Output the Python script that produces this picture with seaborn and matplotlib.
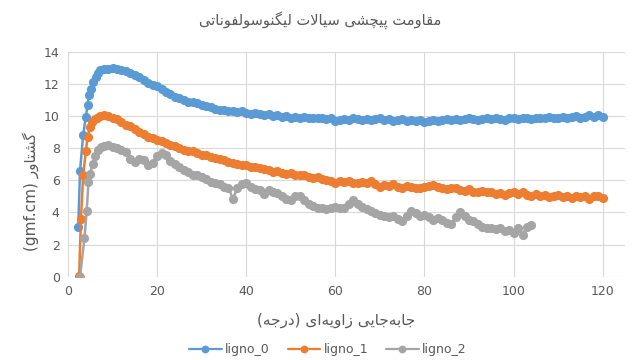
import re
import matplotlib
matplotlib.use("Agg")
import matplotlib.pyplot as plt
import numpy as np
import pandas as pd
import seaborn as sns
from matplotlib.lines import Line2D

# ---- data ----
series_names = ["ligno_0", "ligno_1", "ligno_2"]
colors = ["#5B9BD5", "#ED7D31", "#A5A5A5"]

x0 = [2.3, 2.7, 3.4, 4.0, 4.4, 4.7, 5.2, 5.7, 6.2, 6.7, 7.2] + list(range(8, 121))
y0 = [3.1, 6.6, 8.8, 9.95, 10.7, 11.3, 11.7, 12.1, 12.4, 12.7, 12.85,
      12.9, 12.95, 13.0, 12.95, 12.85, 12.8, 12.65, 12.55, 12.4, 12.25,
      12.05, 11.95, 11.85, 11.7, 11.5, 11.35, 11.2, 11.1, 11.0, 10.9,
      10.85, 10.8, 10.7, 10.6, 10.55, 10.45, 10.4, 10.35, 10.3, 10.3,
      10.25, 10.3, 10.2, 10.15, 10.2, 10.1, 10.05, 10.1, 10.0, 10.05,
      9.95, 10.0, 9.9, 9.95, 9.9, 9.95, 9.85, 9.9, 9.85, 9.9,
      9.8, 9.85, 9.7, 9.75, 9.8, 9.75, 9.85, 9.8, 9.75, 9.8,
      9.75, 9.8, 9.85, 9.75, 9.8, 9.7, 9.75, 9.8, 9.7, 9.75,
      9.7, 9.75, 9.65, 9.7, 9.75, 9.7, 9.75, 9.8, 9.75, 9.8,
      9.75, 9.8, 9.85, 9.8, 9.75, 9.8, 9.85, 9.8, 9.85, 9.8,
      9.75, 9.85, 9.9, 9.8, 9.85, 9.9, 9.8, 9.85, 9.9, 9.85,
      9.95, 9.85, 9.9, 9.95, 9.85, 9.95, 10.0, 9.9, 9.95, 10.05,
      9.95, 10.05, 9.95]

x1 = [2.5, 2.9, 3.4, 4.0, 4.4, 4.9, 5.4, 6.0, 6.6, 7.2] + list(range(8, 121))
y1 = [0.05, 3.6, 6.3, 7.8, 8.7, 9.3, 9.6, 9.8, 9.9, 10.0,
      10.05, 10.0, 9.85, 9.8, 9.6, 9.45, 9.4, 9.2, 9.0, 8.85,
      8.7, 8.6, 8.5, 8.45, 8.35, 8.2, 8.15, 8.0, 7.9, 7.85,
      7.8, 7.7, 7.6, 7.55, 7.45, 7.4, 7.3, 7.25, 7.15, 7.1,
      7.0, 6.95, 6.95, 6.85, 6.8, 6.75, 6.7, 6.65, 6.5, 6.55,
      6.45, 6.4, 6.45, 6.35, 6.3, 6.3, 6.2, 6.15, 6.2, 6.1,
      6.0, 5.95, 5.85, 5.95, 5.9, 5.95, 5.85, 5.8, 5.9, 5.85,
      5.95, 5.75, 5.6, 5.7, 5.65, 5.75, 5.6, 5.55, 5.65, 5.6,
      5.5, 5.55, 5.6, 5.65, 5.7, 5.6, 5.5, 5.45, 5.55, 5.5,
      5.4, 5.35, 5.45, 5.3, 5.3, 5.35, 5.25, 5.3, 5.15, 5.2,
      5.1, 5.2, 5.25, 5.15, 5.3, 5.1, 5.05, 5.15, 5.0, 5.1,
      4.95, 5.05, 5.1, 4.95, 5.0, 4.9, 5.05, 4.95, 5.0, 4.85,
      5.0, 5.05, 4.9]

x2 = [2.7, 3.7, 4.2, 4.6, 5.0, 5.5, 6.1, 6.8, 7.5] + list(range(8, 105))
y2 = [0.0, 2.4, 4.1, 5.9, 6.4, 7.0, 7.5, 7.9, 8.1,
      8.15, 8.2, 8.1, 8.0, 7.9, 7.75, 7.3, 7.15, 7.3, 7.25,
      6.95, 7.1, 7.5, 7.7, 7.55, 7.2, 7.0, 6.8, 6.65, 6.5,
      6.35, 6.3, 6.2, 6.05, 5.9, 5.8, 5.75, 5.6, 5.55, 4.85,
      5.5, 5.75, 5.8, 5.6, 5.45, 5.4, 5.15, 5.4, 5.3, 5.2,
      5.0, 4.85, 4.8, 5.0, 5.05, 4.75, 4.5, 4.4, 4.3, 4.25,
      4.2, 4.3, 4.35, 4.3, 4.25, 4.5, 4.75, 4.55, 4.35, 4.2,
      4.1, 3.95, 3.85, 3.75, 3.7, 3.75, 3.6, 3.45, 3.8, 4.1,
      3.95, 3.8, 3.85, 3.7, 3.55, 3.65, 3.5, 3.35, 3.3, 3.7,
      4.0, 3.75, 3.55, 3.45, 3.3, 3.1, 3.0, 3.05, 2.95, 3.0,
      2.85, 2.9, 2.75, 3.0, 2.6, 3.1, 3.2]

x_ticks = [0, 20, 40, 60, 80, 100, 120]
y_ticks = [0, 2, 4, 6, 8, 10, 12, 14]

title_text = "مقاومت پیچشی سیالات لیگنوسولفوناتی"
xlabel_text = "جابه\u200cجایی زاویه\u200cای (درجه)"
ylabel_text = "گشتاور (gmf.cm)"

# ---- tiny arabic/persian shaper (matplotlib has no shaping / bidi) ----
# letter: (isolated, final, initial, medial); None -> right-joining only
FORMS = {
    "ا": (0xFE8D, 0xFE8E, None, None),
    "ب": (0xFE8F, 0xFE90, 0xFE91, 0xFE92),
    "پ": (0xFB56, 0xFB57, 0xFB58, 0xFB59),
    "ت": (0xFE95, 0xFE96, 0xFE97, 0xFE98),
    "ج": (0xFE9D, 0xFE9E, 0xFE9F, 0xFEA0),
    "چ": (0xFB7A, 0xFB7B, 0xFB7C, 0xFB7D),
    "د": (0xFEA9, 0xFEAA, None, None),
    "ر": (0xFEAD, 0xFEAE, None, None),
    "ز": (0xFEAF, 0xFEB0, None, None),
    "س": (0xFEB1, 0xFEB2, 0xFEB3, 0xFEB4),
    "ش": (0xFEB5, 0xFEB6, 0xFEB7, 0xFEB8),
    "ف": (0xFED1, 0xFED2, 0xFED3, 0xFED4),
    "ق": (0xFED5, 0xFED6, 0xFED7, 0xFED8),
    "گ": (0xFB92, 0xFB93, 0xFB94, 0xFB95),
    "ل": (0xFEDD, 0xFEDE, 0xFEDF, 0xFEE0),
    "م": (0xFEE1, 0xFEE2, 0xFEE3, 0xFEE4),
    "ن": (0xFEE5, 0xFEE6, 0xFEE7, 0xFEE8),
    "ه": (0xFEE9, 0xFEEA, 0xFEEB, 0xFEEC),
    "و": (0xFEED, 0xFEEE, None, None),
    "ی": (0xFBFC, 0xFBFD, 0xFBFE, 0xFBFF),
}


def shape(s):
    # lam-alef ligature first
    out = []
    chars = list(s)
    i = 0
    tokens = []
    while i < len(chars):
        if chars[i] == "ل" and i + 1 < len(chars) and chars[i + 1] == "ا":
            tokens.append("LA")
            i += 2
        else:
            tokens.append(chars[i])
            i += 1

    def joins_next(t):
        if t == "LA":
            return False
        return t in FORMS and FORMS[t][2] is not None

    def is_letter(t):
        return t == "LA" or t in FORMS

    for k, t in enumerate(tokens):
        if t == "\u200c":
            continue
        prev = tokens[k - 1] if k > 0 else None
        nxt = tokens[k + 1] if k + 1 < len(tokens) else None
        pj = prev is not None and joins_next(prev)
        if t == "LA":
            out.append(chr(0xFEFC if pj else 0xFEFB))
            continue
        if t not in FORMS:
            out.append(t)
            continue
        nj = joins_next(t) and nxt is not None and is_letter(nxt)
        iso, fin, ini, med = FORMS[t]
        if pj and nj:
            out.append(chr(med))
        elif pj:
            out.append(chr(fin))
        elif nj:
            out.append(chr(ini))
        else:
            out.append(chr(iso))
    return "".join(out)


def visual(s):
    s = shape(s)
    runs = re.findall(r"[A-Za-z0-9.]+|[^A-Za-z0-9.]", s)
    mirror = {"(": ")", ")": "("}
    res = []
    for r in reversed(runs):
        if re.match(r"[A-Za-z0-9.]", r):
            res.append(r)
        else:
            res.append(mirror.get(r, r))
    return "".join(res)


# ---- plot ----
frames = []
for name, xs, ys in zip(series_names, [x0, x1, x2], [y0, y1, y2]):
    frames.append(pd.DataFrame({"x": xs, "y": ys, "series": name}))
df = pd.concat(frames, ignore_index=True)

sns.set_style("white")
plt.rcParams["font.family"] = ["DejaVu Sans"]

fig = plt.figure(figsize=(6.38, 3.6), dpi=100)
ax = fig.add_axes([68 / 638, 1 - 276.7 / 360, (625 - 68) / 638, (276.7 - 51.7) / 360])

sns.lineplot(data=df, x="x", y="y", hue="series", palette=colors,
             marker="o", markersize=6.6, markeredgewidth=0, linewidth=1.8,
             estimator=None, sort=False, legend=False, ax=ax)

ax.set_xlim(0, 125)
ax.set_ylim(0, 14)
ax.set_xticks(x_ticks)
ax.set_yticks(y_ticks)
ax.grid(True, color="#D9D9D9", linewidth=0.8)
ax.set_axisbelow(True)
for sp in ax.spines.values():
    sp.set_visible(False)
ax.tick_params(length=0, labelsize=9, labelcolor="#595959", pad=6)
ax.set_xlabel("")
ax.set_ylabel("")

tc = "#595959"
fig.text(320 / 638, 1 - 20 / 360, visual(title_text), ha="center", va="center",
         fontsize=10.5, color=tc)
fig.text(336 / 638, 1 - 320 / 360, visual(xlabel_text), ha="center", va="center",
         fontsize=11, color=tc)
fig.text(31 / 638, 1 - 192 / 360, visual(ylabel_text), ha="center", va="center",
         fontsize=11, color=tc, rotation=90)

handles = [Line2D([0], [0], color=c, marker="o", markersize=5.6, markeredgewidth=0,
                  linewidth=1.6) for c in colors]
fig.legend(handles, series_names, loc="center", bbox_to_anchor=(328 / 638, 1 - 350 / 360),
           ncol=3, frameon=False, fontsize=9, labelcolor=tc, handlelength=2.6,
           columnspacing=1.4, handletextpad=0.3)

fig.savefig("out.png", dpi=100)
